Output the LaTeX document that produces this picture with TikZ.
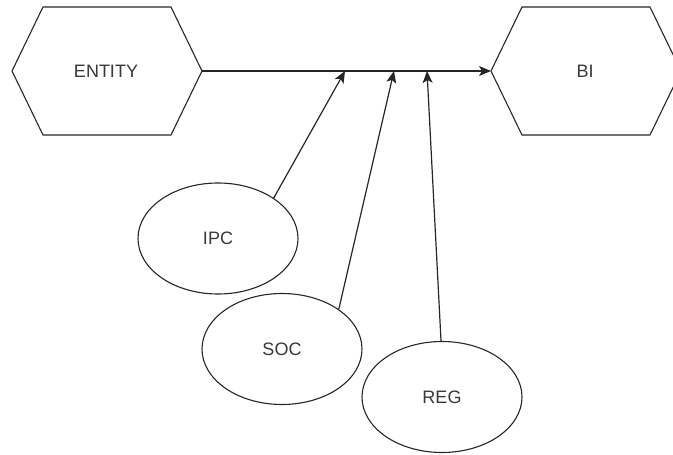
\documentclass[tikz,border=0pt]{standalone}
\usepackage{fontspec}
\setmainfont{Liberation Sans}
\usetikzlibrary{arrows.meta,shapes.geometric}
\begin{document}
\begin{tikzpicture}[x=1pt,y=-1pt, line width=1.2pt, draw=black!85,
  lbl/.style={font=\fontsize{18}{21}\selectfont, text=black!78},
  oval/.style={ellipse, draw, line width=1.1pt, minimum width=160pt, minimum height=111pt, inner sep=0pt, font=\fontsize{18}{21}\selectfont, text=black!78},
  hex/.style={draw, line width=1.1pt, line join=miter},
  conn/.style={draw, -{Stealth[length=12pt,width=10pt,inset=3pt]}}]
\useasboundingbox (0,0) rectangle (673,455);
\clip (0,0) rectangle (673,455);
% ENTITY hexagon
\draw[hex] (12,71) -- (43,7) -- (171,7) -- (202,71) -- (171,135) -- (43,135) -- cycle;
\node[lbl] (entity) at (106,71) {ENTITY};
\coordinate (entityE) at (202,71);
% BI hexagon
\draw[hex] (491,71) -- (522,7) -- (650,7) -- (681,71) -- (650,135) -- (522,135) -- cycle;
\node[lbl] (bi) at (585,71) {BI};
\coordinate (biW) at (491,71);
% ellipses
\node[oval] (ipc) at (218,238.5) {IPC};
\node[oval] (soc) at (282,349) {SOC};
\node[oval] (reg) at (442,397) {REG};
% junction points on main line
\coordinate (j1) at (345,71);
\coordinate (j2) at (394,71);
\coordinate (j3) at (427,71);
% connectors
\draw[conn] (entityE) -- (biW);
\draw[conn] (ipc.36) -- (j1);
\draw[conn] (soc.35) -- (j2);
\draw[conn] (reg.91) -- (j3);
\end{tikzpicture}
\end{document}
